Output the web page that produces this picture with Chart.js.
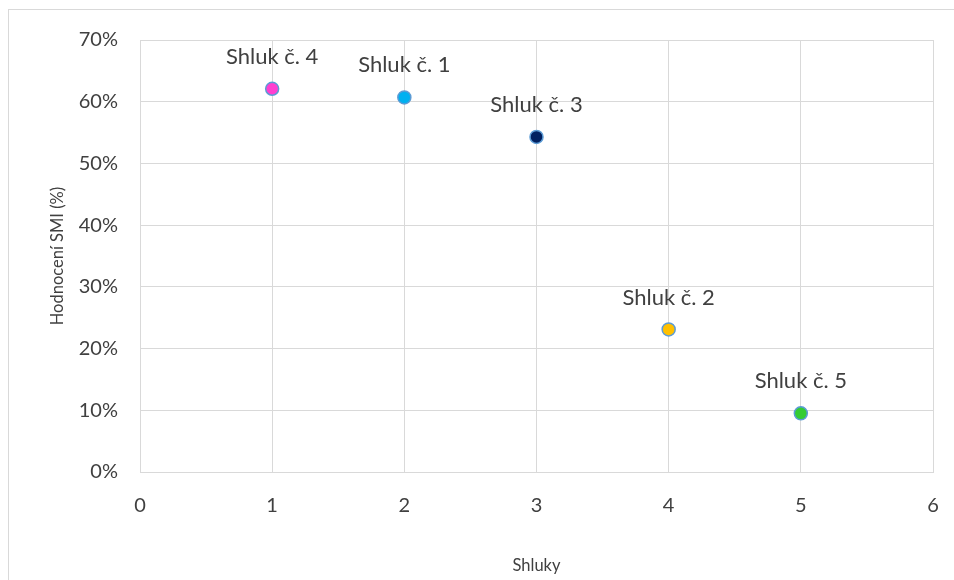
<!DOCTYPE html>
<html>
<head>
<meta charset="utf-8">
<script src="https://cdn.jsdelivr.net/npm/chart.js@4"></script>
<style>
    html, body { margin: 0; padding: 0; background: #fff; }
    #wrap { position: relative; width: 954px; height: 580px; overflow: hidden; }
    #frame { position: absolute; left: 8px; top: 9px; width: 1000px; height: 1000px;
             border-left: 1px solid #d9d9d9; border-top: 1px solid #d9d9d9; }
    #chartSmi { position: absolute; left: 0; top: 0; }
</style>
</head>
<body>
<div id="wrap">
    <div id="frame"></div>
    <canvas id="chartSmi" width="954" height="580"></canvas>
</div>
<script>
// Hodnocení SMI podle shluků (scatter)
const shlukLabels = ['Shluk č. 4', 'Shluk č. 1', 'Shluk č. 3', 'Shluk č. 2', 'Shluk č. 5'];
const shlukX = [1, 2, 3, 4, 5];
const smiValues = [0.621, 0.607, 0.543, 0.231, 0.095];
const pointColors = ['#ff3fd0', '#00b0f0', '#002060', '#ffc000', '#33cc33'];

const FONT = "Lato, 'Open Sans', sans-serif";
const TEXT = '#404040';
const GRID = '#d9d9d9';

// popisky nad body
const pointLabels = {
    id: 'pointLabels',
    afterDatasetsDraw(chart) {
        const ctx = chart.ctx;
        const meta = chart.getDatasetMeta(0);
        ctx.save();
        ctx.font = '22px ' + FONT;
        ctx.fillStyle = TEXT;
        ctx.textAlign = 'center';
        ctx.textBaseline = 'middle';
        meta.data.forEach((pt, i) => {
            ctx.fillText(shlukLabels[i], pt.x, pt.y - 32);
        });
        ctx.restore();
    }
};

new Chart(document.getElementById('chartSmi').getContext('2d'), {
    type: 'scatter',
    data: {
        datasets: [{
            data: shlukX.map((x, i) => ({ x, y: smiValues[i] })),
            backgroundColor: pointColors,
            borderColor: '#5b9bd5',
            borderWidth: 1.5,
            pointRadius: 6.5,
            pointHoverRadius: 6.5
        }]
    },
    options: {
        responsive: false,
        animation: false,
        layout: { padding: { top: 40, right: 21, left: 0, bottom: 0 } },
        plugins: {
            legend: { display: false },
            tooltip: { enabled: false }
        },
        scales: {
            x: {
                type: 'linear',
                min: 0,
                max: 6,
                afterFit: s => { s.height = 108; },
                // neviditelné značky jen kvůli odsazení popisků
                grid: { color: GRID, drawTicks: true, tickLength: 19, tickColor: 'rgba(0,0,0,0)' },
                border: { color: GRID },
                ticks: { stepSize: 1, padding: 3, color: TEXT, font: { family: FONT, size: 20 } },
                title: {
                    display: true, text: 'Shluky', color: TEXT,
                    font: { family: FONT, size: 16.5 }, padding: { top: 0, bottom: 4 }
                }
            },
            y: {
                min: 0,
                max: 0.7,
                afterFit: s => { s.width = 140; },
                grid: { color: GRID, drawTicks: false },
                border: { color: GRID },
                ticks: {
                    stepSize: 0.1, padding: 22, color: TEXT, font: { family: FONT, size: 20 },
                    callback: v => Math.round(v * 100) + '%'
                },
                title: {
                    display: true, text: 'Hodnocení SMI (%)', color: TEXT,
                    font: { family: FONT, size: 16.5 }, padding: { top: 48, bottom: 0 }
                }
            }
        }
    },
    plugins: [pointLabels]
});
</script>
</body>
</html>
